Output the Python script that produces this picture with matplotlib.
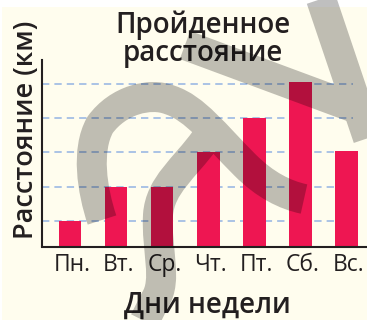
import matplotlib
matplotlib.use("Agg")
import matplotlib.pyplot as plt
from matplotlib.path import Path
from matplotlib.patches import PathPatch, Rectangle
from matplotlib.transforms import Affine2D

plt.rcParams['font.family'] = ['Open Sans', 'DejaVu Sans']

# ---- data ----
days = ["Пн.", "Вт.", "Ср.", "Чт.", "Пт.", "Сб.", "Вс."]
distance = [1, 2, 2, 3, 4, 5.05, 3.05]
grid_levels = [1, 2, 3, 4, 5]
title_lines = ["Пройденное", "расстояние"]
x_label = "Дни недели"
y_label = "Расстояние (км)"

W, H = 367, 320
BG = "#FFFDEE"
BAR = "#EE1652"
TXT = "#231F20"
GRID = "#93B3E3"

fig = plt.figure(figsize=(W / 100, H / 100), dpi=100, facecolor="white")
# cream panel (white margin at top/left)
fig.add_artist(Rectangle((2 / W, 0), 1, 1 - 7 / H, transform=fig.transFigure,
                         facecolor=BG, edgecolor="none", zorder=-10))

px = lambda x0, y0, x1, y1: [x0 / W, 1 - y1 / H, (x1 - x0) / W, (y1 - y0) / H]
ax = fig.add_axes(px(42, 60, 367, 246.5))
ax.set_facecolor("none")

x = list(range(len(days)))
ax.bar(x, distance, width=0.49, color=BAR, zorder=2)
for g in grid_levels:
    ax.axhline(g, xmin=0, xmax=0.957, color=GRID, lw=1.1,
               linestyle=(0, (4.8, 3.3)), zorder=1)

ax.set_xlim(-0.607, 6.445)
ax.set_ylim(0.247, 5.706)
ax.set_yticks([])
ax.set_xticks([i + 0.05 for i in x])
ax.set_xticklabels(days, fontsize=16.5, color=TXT)
ax.tick_params(axis="x", length=0, pad=5)
for s in ("top", "right"):
    ax.spines[s].set_visible(False)
for s in ("left", "bottom"):
    ax.spines[s].set_linewidth(1.5)
    ax.spines[s].set_color(TXT)
    ax.spines[s].set_zorder(3)

# titles / labels
fig.text(203 / W, 1 - 33.5 / H, title_lines[0], ha="center", va="baseline",
         fontsize=20, weight="semibold", color=TXT)
fig.text(203 / W, 1 - 60.5 / H, title_lines[1], ha="center", va="baseline",
         fontsize=20, weight="semibold", color=TXT)
fig.text(207 / W, 1 - 313 / H, x_label, ha="center", va="baseline",
         fontsize=20, weight="semibold", color=TXT)
fig.text(33 / W, 1 - 130 / H, y_label, ha="center", va="baseline",
         rotation=90, rotation_mode="anchor",
         fontsize=19.5, weight="semibold", color=TXT)

# ---- translucent watermark (decoration) in pixel coords ----
M, C, L = Path.MOVETO, Path.CURVE4, Path.LINETO
verts = [
    (102, 220), (92, 190), (86, 150), (100, 125),
    (118, 100), (150, 92), (170, 100),
    (195, 108), (215, 135), (245, 165),
    (265, 185), (285, 195), (304, 199),
    (205, 140), (185, 168), (160, 185), (158, 215),
    (156, 250), (168, 280), (155, 300),
    (140, 330),
    (185, 45), (390, 121),
    (318, -10), (372, 150),
]
codes = [M, C, C, C, C, C, C, C, C, C, C, C, C,
         M, C, C, C, C, C, C, L,
         M, L,
         M, L]
wm = PathPatch(Path(verts, codes), facecolor="none", edgecolor="black",
               alpha=0.25, lw=21.6, capstyle="butt", joinstyle="round",
               transform=Affine2D().scale(1 / W, -1 / H).translate(0, 1) + fig.transFigure,
               zorder=20)
fig.add_artist(wm)

fig.savefig("out.png", dpi=100, facecolor="white")
